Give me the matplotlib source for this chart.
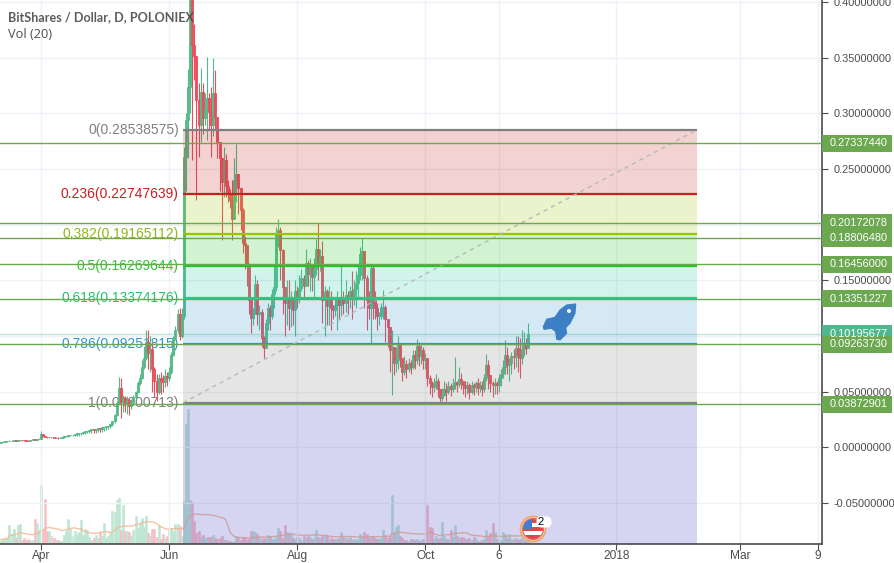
import numpy as np
import pandas as pd
import matplotlib
matplotlib.use("Agg")
import matplotlib.pyplot as plt
from matplotlib.patches import Rectangle, Circle, Polygon, FancyBboxPatch
from matplotlib.transforms import blended_transform_factory

plt.rcParams['font.family'] = ['Liberation Sans', 'DejaVu Sans']

# daily candles, first one is 19 days before 1 Apr
first_day = -19
first_open = 0.0042

closes = [
    .0045, .0050, .0052, .0056, .0058, .0060, .0062, .0060, .0063, .0065,
    .0064, .0062, .0060, .0058, .0062, .0070, .0068, .0072, .0075, .0115,
    .0100, .0095, .0090, .0092, .0088, .0085, .0086, .0084, .0085, .0088,
    .0102, .0105, .0108, .0112, .0112, .0118, .0125, .0125, .0132, .0138,
    .0145, .0150, .0155, .0160, .0158, .0165, .0170, .0168, .0178, .0185,
    .0190, .0195, .0205, .0235, .0290, .0400, .0530, .0405, .0440, .0385,
    .0425, .0370, .0410, .0450, .0500, .0580, .0620, .0720, .0800, .0950,
    .0850, .0880, .0700, .0600, .0500, .0620, .0600, .0590, .0640, .0620,
    .0680, .0830, .0980, .1050, .1200, .1000, .1180, .2610, .2940, .3240,
    .4050, .3620, .3520, .3120, .2900, .3190, .2960, .3040, .3140, .3010,
    .2900, .3180, .2970, .2740, .2600, .2380, .2580, .2350, .2280, .2220,
    .2050, .2400, .2460, .2330, .2130, .1840, .1820, .1650, .1320, .1160,
    .1200, .1470, .1200, .1220, .0980, .0890, .1120, .1250, .1180, .1380,
    .1440, .1930, .1950, .1770, .1440, .1300, .1340, .1250, .1320, .1230,
    .1400, .1350, .1430, .1520, .1450, .1660, .1560, .1630, .1530, .1600,
    .1780, .1650, .1720, .1320, .1400, .1270, .1350, .1250, .1230, .1280,
    .1350, .1280, .1350, .1300, .1370, .1330, .1400, .1340, .1420, .1480,
    .1550, .1740, .1760, .1520, .1320, .1250, .1610, .1340, .1250, .1180,
    .1180, .1260, .1260, .1150, .1080, .0870, .0900, .0760, .0780, .0920,
    .0800, .0680, .0750, .0700, .0760, .0720, .0830, .0780, .0910, .0820,
    .0870, .0780, .0800, .0620, .0580, .0540, .0580, .0600, .0520, .0440,
    .0470, .0520, .0500, .0550, .0520, .0560, .0590, .0570, .0610, .0600,
    .0560, .0530, .0560, .0500, .0560, .0540, .0580, .0530, .0560, .0520,
    .0620, .0740, .0650, .0580, .0560, .0580, .0560, .0620, .0660, .0720,
    .0830, .0740, .0760, .0820, .0810, .0890, .0830, .0800, .0880, .0940, .0890, .1020,
]

highs = [
    .0050, .0055, .0056, .0060, .0062, .0064, .0066, .0064, .0066, .0068,
    .0068, .0066, .0064, .0062, .0066, .0074, .0072, .0076, .0080, .0150,
    .0118, .0100, .0095, .0096, .0092, .0090, .0090, .0088, .0090, .0092,
    .0100, .0102, .0106, .0110, .0108, .0112, .0120, .0114, .0125, .0125,
    .0132, .0136, .0135, .0140, .0138, .0142, .0150, .0160, .0155, .0162,
    .0170, .0180, .0200, .0240, .0300, .0420, .0630, .0620, .0470, .0460,
    .0460, .0440, .0430, .0470, .0510, .0600, .0660, .0780, .0900, .1050,
    .1050, .1000, .0950, .0720, .0660, .0660, .0680, .0650, .0700, .0680,
    .0720, .0860, .1000, .1090, .1240, .1250, .1250, .2700, .3000, .3400,
    .4100, .4100, .3800, .3400, .3270, .3410, .3270, .3180, .3510, .3180,
    .3240, .3500, .3390, .2850, .2700, .2500, .2700, .2640, .2400, .2320,
    .2400, .2600, .2730, .2450, .2300, .2150, .1900, .1800, .1660, .1340,
    .1250, .1550, .1500, .1280, .1240, .1000, .1150, .1300, .1280, .1420,
    .1650, .1980, .2050, .1980, .1780, .1350, .1500, .1500, .1400, .1260,
    .1500, .1450, .1550, .1600, .1550, .1780, .1680, .1700, .1650, .1700,
    .1870, .2020, .1780, .1850, .1450, .1420, .1450, .1400, .1280, .1350,
    .1400, .1350, .1640, .1400, .1500, .1400, .1450, .1580, .1500, .1580,
    .1660, .1800, .1880, .1600, .1550, .1400, .1650, .1650, .1400, .1300,
    .1220, .1300, .1410, .1280, .1120, .1000, .1050, .0860, .0900, .1000,
    .0900, .0780, .0820, .0780, .0800, .0780, .0870, .0870, .0970, .0950,
    .0920, .0900, .0850, .0800, .0650, .0600, .0620, .0660, .0620, .0520,
    .0530, .0600, .0580, .0600, .0580, .0620, .0810, .0600, .0720, .0670,
    .0600, .0600, .0600, .0580, .0600, .0580, .0600, .0620, .0600, .0600,
    .0660, .0840, .0780, .0620, .0600, .0620, .0600, .0660, .0700, .0780,
    .0960, .0900, .0800, .0860, .0880, .1000, .1000, .0980, .1050, .1040, .0980, .1120,
]

lows = [
    .0040, .0044, .0048, .0050, .0052, .0055, .0056, .0055, .0058, .0060,
    .0058, .0056, .0054, .0052, .0056, .0062, .0062, .0066, .0070, .0072,
    .0090, .0088, .0085, .0085, .0082, .0080, .0080, .0078, .0080, .0082,
    .0086, .0092, .0095, .0098, .0098, .0100, .0105, .0104, .0108, .0115,
    .0120, .0125, .0125, .0128, .0126, .0130, .0136, .0134, .0136, .0148,
    .0152, .0162, .0172, .0190, .0220, .0280, .0400, .0260, .0320, .0320,
    .0300, .0290, .0340, .0380, .0430, .0490, .0560, .0610, .0700, .0780,
    .0700, .0680, .0500, .0450, .0420, .0480, .0480, .0500, .0540, .0550,
    .0600, .0660, .0820, .0960, .1030, .0960, .0980, .1150, .2300, .2600,
    .3000, .2580, .3300, .2220, .2610, .2740, .2820, .2900, .2760, .2850,
    .2610, .2800, .2850, .2600, .2300, .1860, .2250, .2250, .2200, .2150,
    .1860, .2050, .2200, .2100, .1950, .1750, .1600, .1450, .1200, .1030,
    .1100, .1200, .1100, .1050, .0900, .0800, .1000, .1050, .1050, .1150,
    .1250, .1400, .1800, .1500, .1200, .1000, .1100, .1050, .1080, .1100,
    .1000, .1250, .1300, .1400, .1350, .1500, .1450, .1400, .1400, .1350,
    .1550, .1500, .1580, .1120, .1000, .1100, .1100, .1050, .1150, .1180,
    .1050, .1150, .1180, .1200, .1220, .1200, .1250, .1150, .1280, .1250,
    .1350, .1500, .1500, .1250, .1050, .1150, .0940, .1150, .1150, .1050,
    .1100, .1150, .1150, .0950, .0900, .0680, .0470, .0650, .0680, .0700,
    .0720, .0600, .0650, .0620, .0680, .0660, .0700, .0700, .0750, .0730,
    .0750, .0700, .0700, .0550, .0480, .0450, .0500, .0520, .0450, .0400,
    .0420, .0460, .0420, .0480, .0460, .0500, .0520, .0500, .0540, .0520,
    .0480, .0450, .0480, .0430, .0480, .0470, .0500, .0470, .0500, .0460,
    .0500, .0600, .0520, .0500, .0450, .0480, .0480, .0500, .0550, .0620,
    .0660, .0660, .0600, .0660, .0700, .0720, .0680, .0620, .0750, .0820, .0840, .0950,
]

volumes = [
    4, 5, 5, 6, 19, 10, 15, 7, 19, 20,
    4, 6, 4, 5, 4, 4, 25, 21, 14, 59,
    14, 45, 13, 13, 8, 6, 4, 4, 3, 3,
    9, 13, 25, 15, 8, 13, 10, 12, 24, 9,
    15, 14, 7, 4, 6, 9, 6, 12, 8, 21,
    6, 8, 12, 33, 32, 44, 46, 14, 39, 13,
    13, 12, 8, 14, 28, 16, 21, 26, 17, 28,
    11, 8, 15, 15, 7, 19, 5, 10, 6, 8,
    15, 16, 13, 20, 20, 18, 8, 43, 120, 135,
    44, 42, 23, 11, 13, 7, 9, 6, 7, 7,
    7, 9, 6, 5, 6, 8, 4, 4, 3, 3,
    2, 3, 8, 6, 4, 7, 7, 4, 5, 13,
    13, 12, 10, 7, 5, 6, 5, 9, 7, 5,
    5, 7, 16, 13, 6, 19, 12, 10, 11, 6,
    5, 7, 6, 4, 8, 6, 8, 7, 5, 6,
    14, 7, 6, 8, 9, 9, 4, 6, 5, 5,
    5, 6, 12, 7, 6, 5, 7, 4, 5, 4,
    5, 10, 7, 12, 10, 6, 8, 8, 6, 5,
    5, 6, 14, 9, 6, 8, 49, 12, 17, 19,
    8, 6, 4, 4, 3, 5, 5, 4, 5, 3,
    4, 5, 5, 39, 17, 16, 5, 8, 5, 6,
    22, 8, 5, 5, 14, 7, 19, 8, 6, 7,
    7, 5, 5, 6, 4, 7, 5, 3, 3, 4,
    5, 14, 7, 11, 21, 12, 5, 4, 4, 12,
    10, 6, 10, 5, 5, 6, 4, 5, 6, 4, 3, 3,
]

# fib retracement
fib_ratios = ['0', '0.236', '0.382', '0.5', '0.618', '0.786', '1']
fib_prices = [0.28538575, 0.22747639, 0.19165112, 0.16269644, 0.13374176, 0.09251815, 0.04000713]
fib_colors = ['#808080', '#c62020', '#9bc400', '#22c522', '#1fc9a0', '#2a93c9', '#808080']
fib_text_colors = ['#808080', '#c62020', '#8fb81a', '#2ec42e', '#24c26a', '#2f96d0', '#808080']
fib_start = 67.6
fib_end = 312.4

# horizontal levels with a price box on the axis
level_prices = [0.27337440, 0.20172078, 0.18806480, 0.16456000, 0.13351227, 0.09263730, 0.03872901]
last_price = 0.10195677

y_ticks = [0.40, 0.35, 0.30, 0.25, 0.20, 0.15, 0.10, 0.05, 0.0, -0.05]
x_tick_days = [0, 61, 122, 183, 218, 274, 333, 370]
x_tick_labels = ['Apr', 'Jun', 'Aug', 'Oct', '6', '2018', 'Mar', '9']

closes = np.array(closes)
opens = np.concatenate([[first_open], closes[:-1]])
highs = np.maximum(np.array(highs), np.maximum(opens, closes))
lows = np.minimum(np.array(lows), np.minimum(opens, closes))
volumes = np.array(volumes, dtype=float)
days = np.arange(first_day, first_day + len(closes))
vol_ma = pd.Series(volumes).rolling(20, min_periods=1).mean()

up_color = '#53b987'
down_color = '#eb4d5c'
level_color = '#6ba84f'
axis_color = '#4c4c4c'
text_color = '#4c4c4c'
colors = [up_color if c >= o else down_color for o, c in zip(opens, closes)]

fig = plt.figure(figsize=(8.95, 5.63), dpi=100)
ax = fig.add_axes([0, 1 - 543.5 / 563, 822.5 / 895, 543.5 / 563])
ax_vol = ax.twinx()

ax.set_xlim(-19.52, 372.1)
ax.set_ylim(-0.0865, 0.402)
ax_vol.set_ylim(0, 543.5)

ax_vol.set_zorder(0)
ax.set_zorder(1)
ax.patch.set_visible(False)
ax_vol.patch.set_facecolor('white')
ax_vol.yaxis.set_visible(False)
for s in ax_vol.spines.values():
    s.set_visible(False)

# volume
vol_colors = ['#bfe6d3' if c == up_color else '#f8bfc5' for c in colors]
ax_vol.bar(days, volumes, width=0.95, color=vol_colors, edgecolor=vol_colors, linewidth=0.4)
ax_vol.plot(days, vol_ma, color='#f7b58a', lw=1.0, alpha=0.8)

# grid
ax.set_axisbelow(True)
ax.set_xticks(x_tick_days)
ax.set_xticklabels(x_tick_labels)
ax.set_yticks(y_ticks)
ax.set_yticklabels(['%.8f' % t for t in y_ticks])
ax.yaxis.tick_right()
ax.grid(True, color='#eef1f6', lw=1)
ax.tick_params(axis='both', color=axis_color, labelcolor=text_color, labelsize=7.9, length=4, width=0.8)
ax.tick_params(axis='y', pad=4)
ax.tick_params(axis='x', pad=1, labelsize=8.6)

for name in ['left', 'top']:
    ax.spines[name].set_visible(False)
for name in ['right', 'bottom']:
    ax.spines[name].set_color(axis_color)
    ax.spines[name].set_linewidth(1.2)

# candles
ax.vlines(days, lows, highs, colors=colors, lw=0.8, zorder=3)
ax.bar(days, closes - opens, bottom=opens, width=0.95, color=colors, edgecolor=colors, linewidth=0.6, zorder=3.1)

# fib bands go over the candles, the last one runs off the bottom of the chart
band_edges = fib_prices + [ax.get_ylim()[0]]
band_colors = ['#c62020', '#9bc400', '#22c522', '#1fc9a0', '#2a93c9', '#808080', '#3030c0']
for i in range(len(band_colors)):
    ax.fill_between([fib_start, fib_end], band_edges[i], band_edges[i + 1],
                    color=band_colors[i], alpha=0.2, linewidth=0, zorder=4)

for i in range(len(fib_prices)):
    ax.plot([fib_start, fib_end], [fib_prices[i], fib_prices[i]], color=fib_colors[i], lw=1.6, zorder=4.2,
            solid_capstyle='butt')
    ax.text(fib_start - 2.0, fib_prices[i], '%s(%.8f)' % (fib_ratios[i], fib_prices[i]),
            color=fib_text_colors[i], fontsize=10, ha='right', va='center', zorder=2.6)

ax.plot([fib_start, fib_end], [fib_prices[-1], fib_prices[0]], color='#b8b8b8', lw=1, ls=(0, (3, 3)), zorder=4.3)

# levels
box_tr = blended_transform_factory(ax.transAxes, ax.transData)
box_w = 70 / 822.5
box_h = 17 / 1112
ax.axhline(last_price, color='#4db88e', lw=1, alpha=0.35, zorder=4.4)
for p in level_prices:
    ax.axhline(p, color=level_color, lw=1.0, zorder=4.5)

for p, c in [(last_price, '#4db88e')] + [(p, level_color) for p in level_prices]:
    ax.add_patch(Rectangle((1.0, p - box_h / 2), box_w, box_h, transform=box_tr, facecolor=c,
                           edgecolor='none', clip_on=False, zorder=6))
    ax.text(1.0 + 7 / 822.5, p, '%.8f' % p, transform=box_tr, color='white', fontsize=7.9,
            ha='left', va='center', clip_on=False, zorder=7)

# icons and titles, in pixels of the picture
overlay = fig.add_axes([0, 0, 1, 1], facecolor='none')
overlay.set_xlim(0, 895)
overlay.set_ylim(563, 0)
overlay.axis('off')
overlay.set_zorder(5)

overlay.text(8, 17, 'BitShares / Dollar, D, POLONIEX', color=text_color, fontsize=9.05, va='center',
             family=['Lato', 'DejaVu Sans'], fontweight='bold', alpha=0.9)
overlay.text(8, 34, 'Vol (20)', color=text_color, fontsize=9.2, va='center', family=['Open Sans', 'DejaVu Sans'])

rocket = [(575.7, 304), (575, 313.3), (570, 323.3), (565.7, 327.7), (566.7, 333.3), (560, 340),
          (556.7, 339.3), (555.7, 331.7), (551.7, 328.3), (544, 329.3), (543.3, 326.7),
          (546.7, 319.3), (555, 317.3), (560, 310), (566.7, 305)]
overlay.add_patch(Polygon(rocket, closed=True, facecolor='#3d7fc4', edgecolor='#3d7fc4', lw=0.8, joinstyle='round'))
overlay.add_patch(Circle((569, 311), 2, facecolor='white', edgecolor='none'))

# flag marker
overlay.add_patch(Circle((533, 529), 12.5, facecolor='white', edgecolor='#f2a45c', lw=1.2))
overlay.add_patch(Circle((533, 529), 10.5, facecolor='white', edgecolor='#ee6a6a', lw=1))
flag = Circle((533, 529), 10, facecolor='none', edgecolor='none')
overlay.add_patch(flag)
for y0 in [519, 527, 535]:
    r = Rectangle((522, y0), 22, 3.5, facecolor='#e04848', edgecolor='none')
    overlay.add_patch(r)
    r.set_clip_path(flag)
canton = Rectangle((522, 519), 10, 10, facecolor='#3f7fd0', edgecolor='none')
overlay.add_patch(canton)
canton.set_clip_path(flag)
overlay.add_patch(FancyBboxPatch((539, 519), 10, 6, boxstyle='round,pad=2.5,rounding_size=5',
                                 facecolor='white', edgecolor='none'))
overlay.text(541, 522, '2', color='black', fontsize=8, ha='center', va='center')

fig.savefig('out.png', dpi=100)
